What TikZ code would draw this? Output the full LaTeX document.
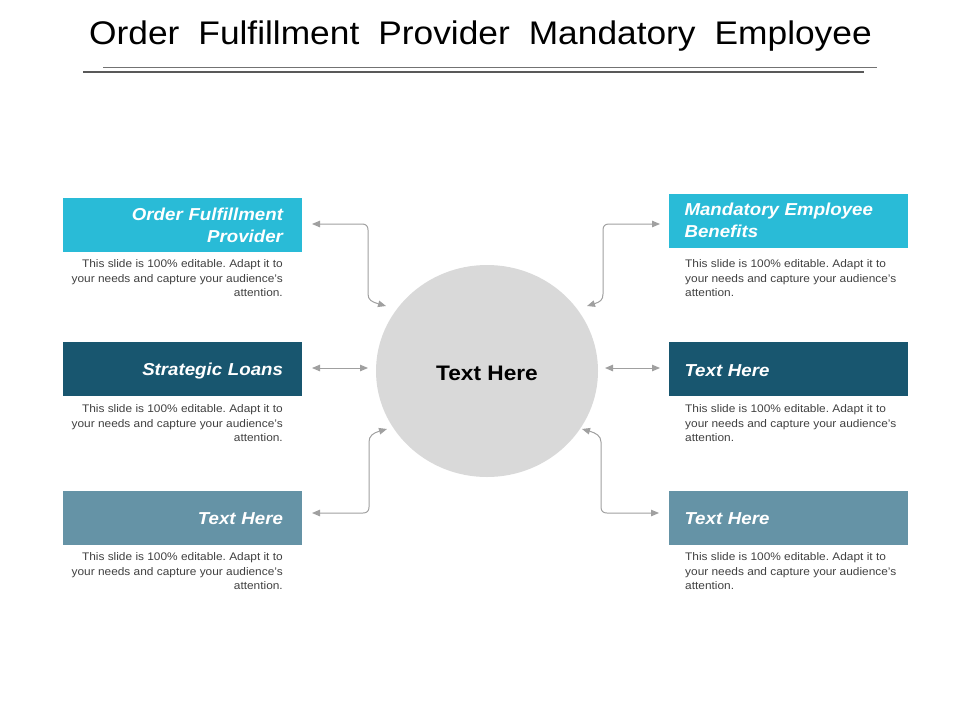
\documentclass[tikz,border=0pt]{standalone}
\usepackage{fontspec}
\setmainfont[FakeStretch=1.08]{Liberation Sans}
\usetikzlibrary{arrows.meta,shapes.geometric}
\definecolor{cyanbox}{HTML}{29BBD7}
\definecolor{tealbox}{HTML}{18566F}
\definecolor{steelbox}{HTML}{6593A6}
\definecolor{circfill}{HTML}{D9D9D9}
\definecolor{arrgray}{HTML}{A0A0A0}
\definecolor{desctext}{HTML}{404040}
\newcommand{\lowertext}[2]{\raisebox{-#1}[\height][\depth]{#2}}
\tikzset{
  box/.style={rectangle, minimum width=239pt, minimum height=54pt, inner ysep=0pt,
    text=white, font=\fontsize{17.3}{22}\selectfont\bfseries\itshape},
  lbox/.style={box, align=right, text width=201pt, inner xsep=19pt},
  rbox/.style={box, align=left, text width=207pt, inner xsep=16pt},
  desc/.style={inner sep=0pt, text=desctext, font=\fontsize{11}{14.4}\selectfont\frenchspacing},
  ldesc/.style={desc, align=right, anchor=north east},
  rdesc/.style={desc, align=left, anchor=north west},
  conn/.style={draw=arrgray, line width=1pt,
    {Triangle[length=8pt,width=6.5pt]}-{Triangle[length=8pt,width=6.5pt]}},
}
\begin{document}
\begin{tikzpicture}[x=1pt,y=-1pt]
\useasboundingbox (0,0) rectangle (960,720);
% title
\node[anchor=base, inner sep=0pt] (title) at (480.5,44)
  {\fontsize{32.7}{36}\selectfont\spaceskip=19pt Order Fulfillment Provider Mandatory Employee};
\coordinate (t1a) at (103,67); \coordinate (t1b) at (877,67);
\coordinate (t2a) at (83,72); \coordinate (t2b) at (864,72);
\draw[color=black!55, line width=0.8pt] (t1a) -- (t1b);
\draw[color=black!65, line width=2pt] (t2a) -- (t2b);
% centre
\node[ellipse, fill=circfill, minimum width=222pt, minimum height=212pt, inner sep=0pt,
  font=\fontsize{21}{25}\selectfont\bfseries] (c) at (487,371) {\lowertext{2pt}{Text Here}};
% boxes
\node[lbox, fill=cyanbox] (b1) at (182.5,225) {Order Fulfillment\\Provider};
\node[lbox, fill=tealbox] (b2) at (182.5,369) {\lowertext{2pt}{Strategic Loans}};
\node[lbox, fill=steelbox] (b3) at (182.5,517.5) {\lowertext{1.5pt}{Text Here}};
\node[rbox, fill=cyanbox] (b4) at (788,220.5) {Mandatory Employee\\Benefits};
\node[rbox, fill=tealbox] (b5) at (788,369) {\lowertext{1.5pt}{Text Here}};
\node[rbox, fill=steelbox] (b6) at (788,517.5) {\lowertext{1.5pt}{Text Here}};
% descriptions
\node[ldesc] (d1) at (283,259.5) {This slide is 100\% editable. Adapt it to\\your needs and capture your audience's\\attention.};
\node[ldesc] (d2) at (283,404.5) {This slide is 100\% editable. Adapt it to\\your needs and capture your audience's\\attention.};
\node[ldesc] (d3) at (283,552.5) {This slide is 100\% editable. Adapt it to\\your needs and capture your audience's\\attention.};
\node[rdesc] (d4) at (685,259.5) {This slide is 100\% editable. Adapt it to\\your needs and capture your audience's\\attention.};
\node[rdesc] (d5) at (685,404.5) {This slide is 100\% editable. Adapt it to\\your needs and capture your audience's\\attention.};
\node[rdesc] (d6) at (685,552.5) {This slide is 100\% editable. Adapt it to\\your needs and capture your audience's\\attention.};
% connector ends
\coordinate (a1s) at (312,224); \coordinate (a1e) at (386,306);
\coordinate (a2s) at (312,368); \coordinate (a2e) at (368,368);
\coordinate (a3s) at (312,513); \coordinate (a3e) at (387,429);
\coordinate (a4s) at (660,224); \coordinate (a4e) at (587,306);
\coordinate (a5s) at (605,368); \coordinate (a5e) at (660,368);
\coordinate (a6s) at (659,513); \coordinate (a6e) at (582,429);
% connectors
\draw[conn] (a1s) -- (362,224) .. controls (366,224) and (368,226) .. (368,230)
  -- (368,294) .. controls (368,300) and (372,302) .. (a1e);
\draw[conn] (a2s) -- (a2e);
\draw[conn] (a3s) -- (363,513) .. controls (367,513) and (369,511) .. (369,507)
  -- (369,442) .. controls (369,436) and (373,433) .. (a3e);
\draw[conn] (a4s) -- (609,224) .. controls (605,224) and (603,226) .. (603,230)
  -- (603,294) .. controls (603,300) and (600,302) .. (a4e);
\draw[conn] (a5s) -- (a5e);
\draw[conn] (a6s) -- (607,513) .. controls (603,513) and (601,511) .. (601,507)
  -- (601,442) .. controls (601,436) and (596,433) .. (a6e);
\end{tikzpicture}
\end{document}
